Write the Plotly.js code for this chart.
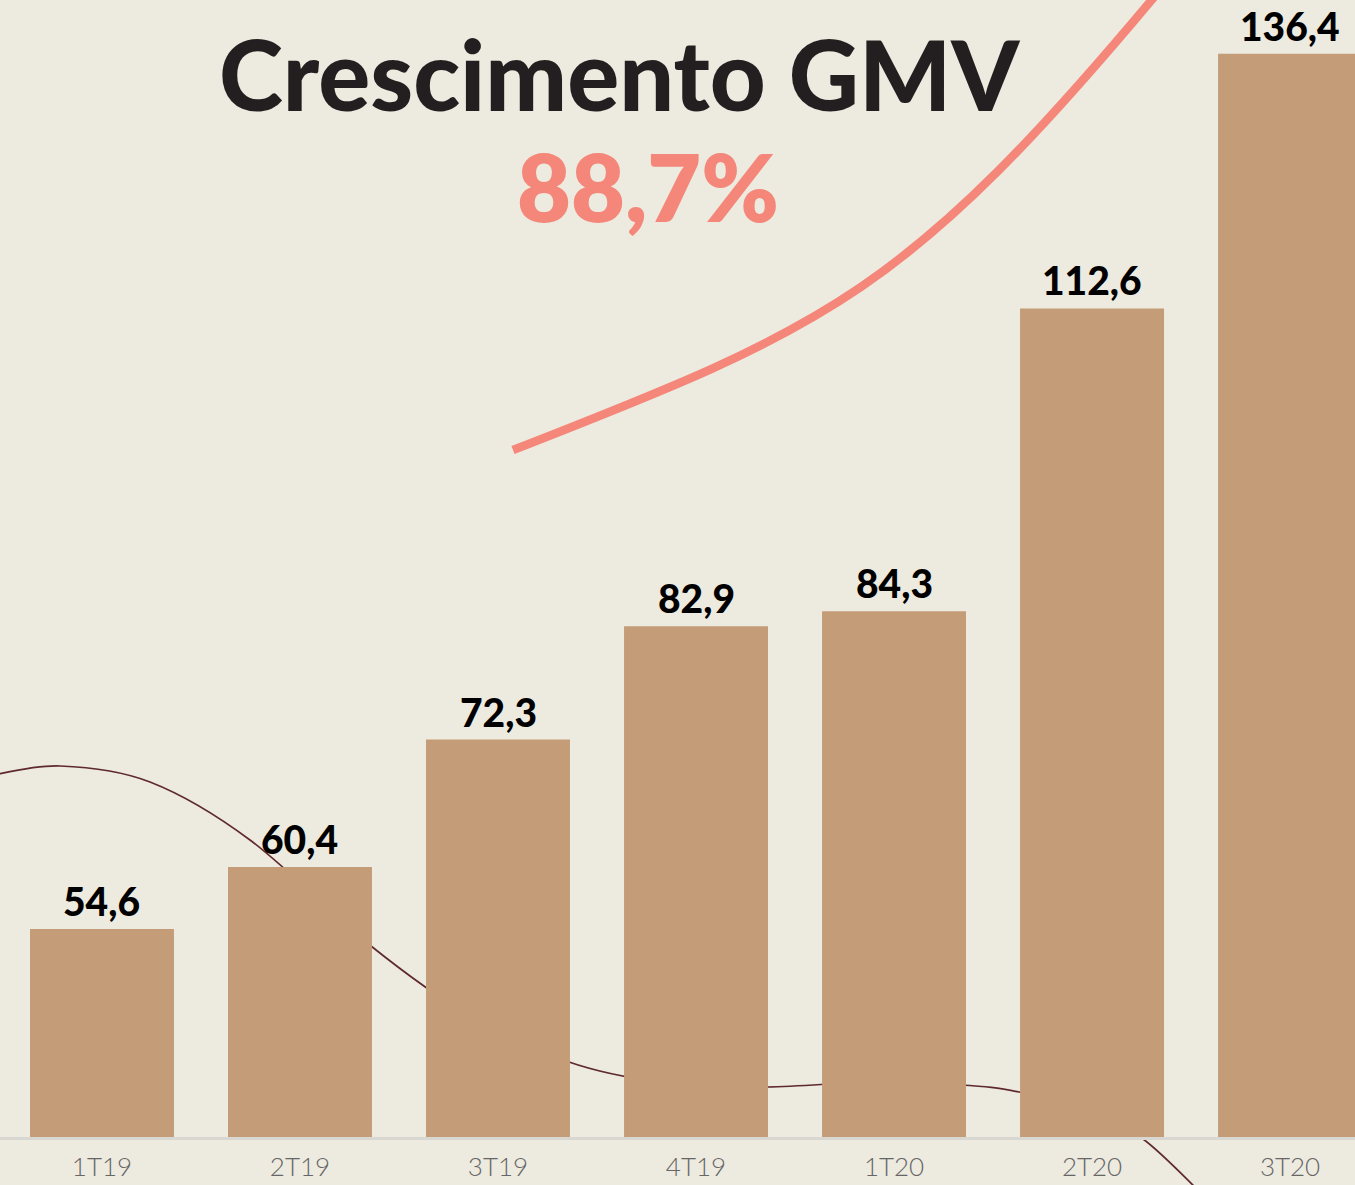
<!DOCTYPE html>
<html>
<head>
<meta charset="utf-8">
<script src="https://cdn.plot.ly/plotly-3.0.1.min.js"></script>
<style>
  html, body { margin: 0; padding: 0; background: #EDEADF; }
  #chart { width: 1355px; height: 1185px; }
</style>
</head>
<body>
<div id="chart"></div>
<script>
// ---- data ----
const quarters = ["1T19", "2T19", "3T19", "4T19", "1T20", "2T20", "3T20"];
const gmv = [54.6, 60.4, 72.3, 82.9, 84.3, 112.6, 136.4];
const titleText = "Crescimento GMV";
const growthText = "88,7%";

// ---- geometry helpers (decoration only) ----
const W = 1355, H = 1185, MB = 48;
const PH = H - MB;
function px2paper(p) { return [p[0] / W, (PH - p[1]) / PH]; }
function smoothPath(pts) {
  const P = pts.map(px2paper);
  let d = "M" + P[0][0] + "," + P[0][1];
  for (let i = 0; i < P.length - 1; i++) {
    const p0 = P[Math.max(i - 1, 0)], p1 = P[i], p2 = P[i + 1], p3 = P[Math.min(i + 2, P.length - 1)];
    const c1 = [p1[0] + (p2[0] - p0[0]) / 6, p1[1] + (p2[1] - p0[1]) / 6];
    const c2 = [p2[0] - (p3[0] - p1[0]) / 6, p2[1] - (p3[1] - p1[1]) / 6];
    d += " C" + c1[0] + "," + c1[1] + " " + c2[0] + "," + c2[1] + " " + p2[0] + "," + p2[1];
  }
  return d;
}
function bezierPath(p0, c1, c2, p3) {
  const [a, b, c, d] = [p0, c1, c2, p3].map(px2paper);
  return "M" + a[0] + "," + a[1] + " C" + b[0] + "," + b[1] + " " + c[0] + "," + c[1] + " " + d[0] + "," + d[1];
}
const thinCurve = [[-12,776],[60,766],[150,782],[250,840],[371,946],[470,1016],[569,1062],[660,1082],[760,1087],[860,1083],[960,1085],[1019,1092],[1090,1112],[1143,1139],[1200,1192]];

const fmt = v => v.toFixed(1).replace(".", ",");

const trace = {
  type: "bar",
  x: quarters,
  y: gmv,
  marker: { color: "#C49C78", line: { width: 0 } },
  hoverinfo: "skip"
};

const annotations = quarters.map((q, i) => ({
  x: q, y: gmv[i], xref: "x", yref: "y",
  text: fmt(gmv[i]),
  showarrow: false, yanchor: "bottom", yshift: 3,
  font: { family: "Lato", size: 39, weight: 900, color: "#000000" }
}));
annotations.push({
  xref: "paper", yref: "paper", x: 619 / W, y: (PH - 73) / PH,
  text: titleText, showarrow: false, xanchor: "center", yanchor: "middle",
  font: { family: "Lato", size: 97, weight: 900, color: "#231F20" }
});
annotations.push({
  xref: "paper", yref: "paper", x: 648 / W, y: (PH - 186) / PH,
  text: growthText, showarrow: false, xanchor: "center", yanchor: "middle",
  font: { family: "Lato", size: 93, weight: 800, color: "#F4877A" }
});

const layout = {
  width: W, height: H,
  margin: { l: 0, r: 0, t: 0, b: MB, pad: 0 },
  paper_bgcolor: "#EDEADF",
  plot_bgcolor: "rgba(0,0,0,0)",
  showlegend: false,
  bargap: 0.273,
  xaxis: {
    type: "category",
    range: [-0.515, 6.328],
    showgrid: false, zeroline: false,
    showline: true, linecolor: "#D9D7D1", linewidth: 3,
    ticks: "", ticklabelstandoff: 5,
    tickfont: { family: "Lato", size: 26, weight: 300, color: "#666666" },
    fixedrange: true
  },
  yaxis: {
    range: [35.16, 141.42],
    showgrid: false, zeroline: false, showline: false,
    showticklabels: false, ticks: "",
    fixedrange: true
  },
  annotations: annotations,
  shapes: [
    { type: "path", xref: "paper", yref: "paper", layer: "below",
      path: smoothPath(thinCurve), line: { color: "#5E2A2F", width: 1.7 } },
    { type: "path", xref: "paper", yref: "paper", layer: "above",
      path: bezierPath([513, 450], [831, 326], [908, 292], [1160, -10]),
      line: { color: "#F4877A", width: 8.5 } }
  ]
};

Plotly.newPlot("chart", [trace], layout, { displayModeBar: false, staticPlot: true });
</script>
</body>
</html>
